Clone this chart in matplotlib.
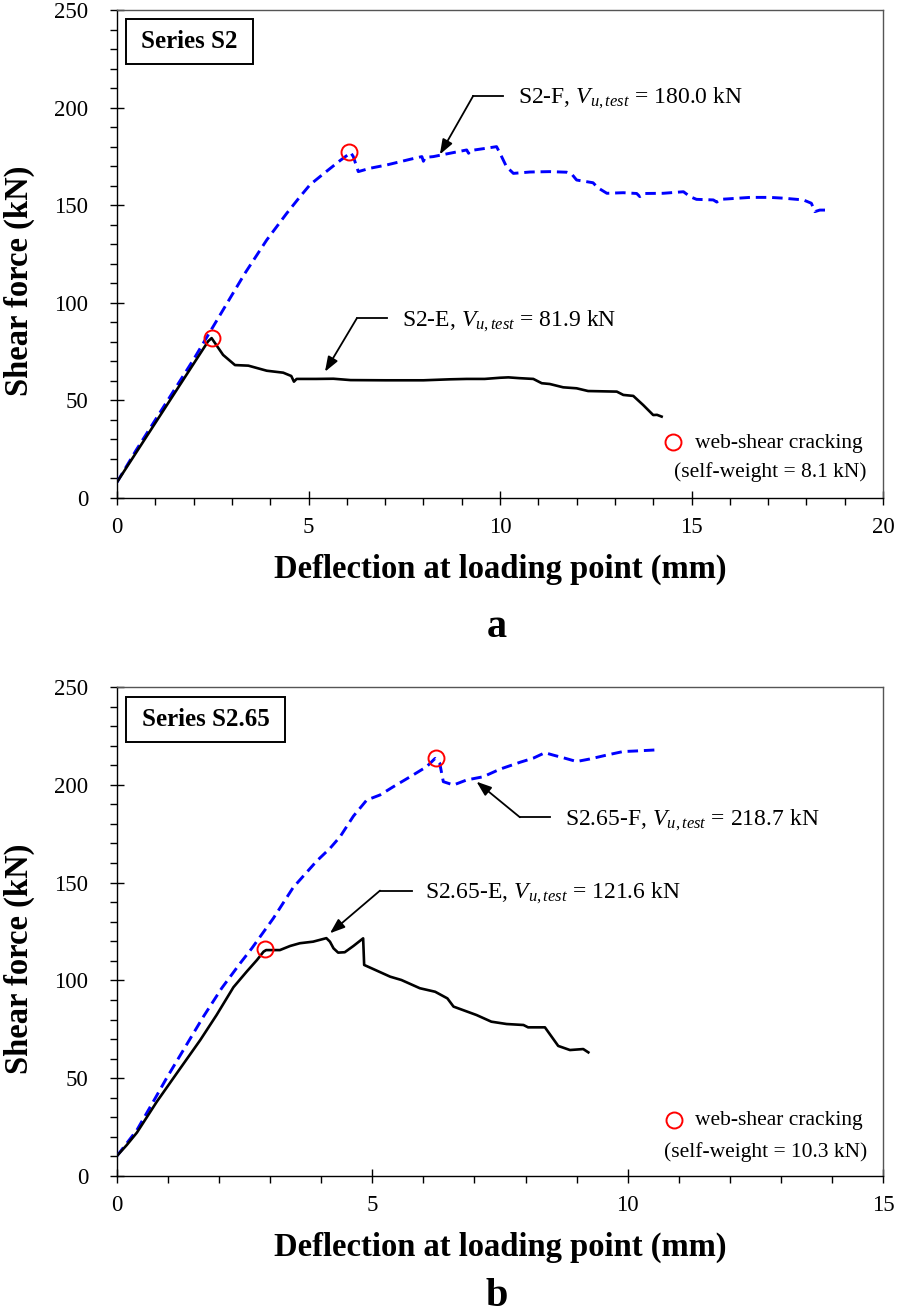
"""
Shear force vs. deflection at loading point for series S2 (a) and S2.65 (b).
Curves digitised from the reference figure.
"""

import matplotlib

matplotlib.use("Agg")
import matplotlib.pyplot as plt
from matplotlib.patches import Rectangle
from matplotlib.ticker import MultipleLocator


plt.rcParams["font.family"] = ["Liberation Serif", "DejaVu Serif"]
plt.rcParams["mathtext.fontset"] = "custom"
plt.rcParams["mathtext.rm"] = "Liberation Serif"
plt.rcParams["mathtext.it"] = "Liberation Serif:italic"

# <>#<>#<>#<>#<>#<>#<>#<>#<>#<>#<>#<>#<>#<>#<>#<>#<>#<>#<>#<>#<>#<>#<>#<>#<>#<>
# <> Step 0. Data
# <>#<>#<>#<>#<>#<>#<>#<>#<>#<>#<>#<>#<>#<>#<>#<>#<>#<>#<>#<>#<>#<>#<>#<>#<>#<>

# (a) Series S2
S2E_X = [0, 2.38, 2.47, 2.77, 3.08, 3.43, 3.91, 4.34, 4.55, 4.62, 4.69, 5.2, 5.65,
         6.1, 7.0, 8.0, 8.69, 9.13, 9.6, 10.0, 10.22, 10.5, 10.87, 11.09, 11.3,
         11.65, 12.0, 12.3, 13.05, 13.22, 13.48, 13.74, 14.0, 14.1, 14.22]
S2E_Y = [8.1, 80.3, 81.9, 73.3, 68.1, 67.8, 65.2, 64.2, 62.5, 59.6, 61.0, 61.0,
         61.1, 60.4, 60.3, 60.3, 60.8, 61.0, 61.0, 61.6, 61.8, 61.4, 61.0, 58.8,
         58.4, 56.7, 56.2, 54.8, 54.5, 52.8, 52.3, 47.6, 42.5, 42.6, 41.7]

S2F_X = [0, 0.5, 1.0, 1.5, 2.0, 2.51, 2.95, 3.34, 3.91, 4.43, 4.78, 5.04, 5.48,
         5.82, 6.04, 6.1, 6.17, 6.3, 6.6, 7.04, 7.65, 7.96, 8.0, 8.05, 8.26, 8.69,
         9.13, 9.18, 9.23, 9.65, 9.91, 10.0, 10.17, 10.35, 10.78, 11.3, 11.74,
         11.87, 12.0, 12.43, 12.55, 12.79, 13.22, 13.57, 13.65, 13.75, 14.26,
         14.79, 14.96, 15.13, 15.57, 15.66, 15.75, 15.92, 16.53, 17.05, 17.4,
         17.92, 18.13, 18.22, 18.35, 18.57]
S2F_Y = [8.1, 24.5, 40.0, 55.5, 71.0, 87.8, 102.3, 115.1, 132.2, 145.8, 154.4,
         160.5, 167.5, 172.8, 176.0, 177.0, 174.9, 167.2, 168.9, 170.6, 173.5,
         174.9, 172.5, 174.5, 174.9, 176.6, 178.3, 176.6, 178.0, 179.2, 180.0,
         176.6, 169.7, 166.3, 167.0, 167.2, 166.9, 166.0, 162.9, 161.5, 159.0,
         156.1, 156.4, 156.0, 154.4, 156.0, 156.1, 156.9, 154.4, 153.0, 152.7,
         151.6, 153.0, 153.2, 154.0, 154.0, 153.6, 152.7, 151.0, 146.7, 147.5,
         147.5]

S2_CRACK_X = [2.47, 6.06]
S2_CRACK_Y = [81.9, 177.0]

# (b) Series S2.65
S265E_X = [0, 0.19, 0.39, 0.78, 1.17, 1.63, 1.95, 2.28, 2.54, 2.74, 2.87, 2.92,
           3.0, 3.19, 3.39, 3.58, 3.84, 4.1, 4.17, 4.24, 4.33, 4.46, 4.63, 4.82,
           4.84, 5.35, 5.57, 5.93, 6.23, 6.47, 6.59, 7.04, 7.33, 7.63, 7.96,
           8.05, 8.38, 8.64, 8.87, 9.13, 9.23]
S265E_Y = [10.3, 15.8, 22.2, 38.0, 52.5, 69.5, 82.3, 96.5, 104.5, 110.4, 114.7,
           115.5, 115.5, 115.5, 117.6, 119.0, 119.8, 121.6, 119.8, 116.4, 114.2,
           114.4, 117.6, 121.5, 107.9, 101.9, 100.2, 96.0, 94.2, 90.8, 86.6, 82.3,
           78.9, 77.7, 77.2, 76.0, 76.0, 66.5, 64.4, 64.9, 63.2]

S265F_X = [0, 0.19, 0.39, 0.71, 0.97, 1.3, 1.69, 2.05, 2.41, 2.64, 3.06, 3.45,
           3.91, 4.17, 4.37, 4.63, 4.89, 5.15, 5.41, 5.74, 6.06, 6.23, 6.32, 6.39,
           6.59, 6.85, 7.17, 7.5, 7.89, 8.15, 8.38, 8.54, 8.77, 9.0, 9.26, 9.59,
           9.91, 10.17, 10.53]
S265F_Y = [10.3, 16.7, 23.5, 38.0, 50.0, 64.4, 81.4, 96.0, 108.7, 116.4, 131.7,
           147.5, 161.0, 167.5, 173.5, 184.0, 192.2, 194.8, 199.0, 204.1, 209.2,
           213.5, 211.0, 201.6, 199.9, 202.5, 204.1, 208.0, 211.5, 213.6, 216.4,
           215.2, 213.6, 211.9, 213.2, 215.2, 217.0, 217.3, 217.8]

S265_CRACK_X = [2.9, 6.25]
S265_CRACK_Y = [115.9, 213.5]

# annotation leaders: (text, arrow head, elbow, end of horizontal leg, text x)
S2_LABELS = [
    (r"S2-F, $V_{u,test}$ = 180.0 kN", (8.43, 176.0), (9.30, 206.0), 10.09, 10.47),
    (r"S2-E, $V_{u,test}$ = 81.9 kN", (5.43, 64.7), (6.26, 92.0), 7.04, 7.43),
]
S265_LABELS = [
    (r"S2.65-F, $V_{u,test}$ = 218.7 kN", (7.04, 201.6), (7.89, 183.4), 8.48, 8.77),
    (r"S2.65-E, $V_{u,test}$ = 121.6 kN", (4.17, 124.1), (5.15, 145.9), 5.77, 6.03),
]

BLUE = "#0000FF"
FIG_W, FIG_H = 898, 1316


def style_axis(axis, x_max):
    axis.set_xlim(0, x_max)
    axis.set_ylim(0, 250)
    axis.xaxis.set_major_locator(MultipleLocator(5))
    axis.xaxis.set_minor_locator(MultipleLocator(1))
    axis.yaxis.set_major_locator(MultipleLocator(50))
    axis.yaxis.set_minor_locator(MultipleLocator(10))
    axis.tick_params(which="major", direction="inout", length=10, width=1,
                     labelsize=16.5)
    axis.tick_params(which="minor", direction="out", length=5, width=1)
    axis.tick_params(axis="y", which="major", pad=15.5)
    axis.tick_params(axis="x", which="major", pad=9)
    for side in ("top", "right"):
        axis.spines[side].set_color("#555555")
    for spine in axis.spines.values():
        spine.set_linewidth(1)


def draw_panel(axis, e_x, e_y, f_x, f_y, crack_x, crack_y, labels):
    axis.plot(f_x, f_y, color=BLUE, lw=2.1, dashes=(3.6, 2.0), zorder=3)
    axis.plot(e_x, e_y, color="black", lw=1.9, zorder=4)
    axis.plot(crack_x, crack_y, "o", ms=11.5, mfc="none", mec="red", mew=1.4,
              zorder=5)
    for text, head, elbow, leg_end, text_x in labels:
        axis.annotate("", xy=head, xytext=elbow,
                      arrowprops=dict(arrowstyle="-|>,head_length=0.6,head_width=0.22",
                                      color="black", lw=1.3, shrinkA=0, shrinkB=0,
                                      mutation_scale=15))
        axis.plot([elbow[0], leg_end], [elbow[1], elbow[1]], color="black", lw=1.3)
        axis.text(text_x, elbow[1] - 1.5, text, fontsize=17, va="center", ha="left")


def add_box(axis, box, text, text_xy):
    axis.add_patch(Rectangle(box[:2], box[2], box[3], transform=axis.transAxes,
                             fill=False, edgecolor="black", lw=1.4, zorder=6))
    axis.text(*text_xy, text, transform=axis.transAxes, fontsize=18,
              fontweight="bold", ha="center", va="center")


def add_key(axis, marker_xy, text_y, note, note_y):
    axis.plot(*marker_xy, "o", ms=11.5, mfc="none", mec="red", mew=1.4,
              transform=axis.transAxes, clip_on=False)
    axis.text(0.7546, text_y, "web-shear cracking", transform=axis.transAxes,
              fontsize=15.5, va="center", ha="left")
    axis.text(0.979, note_y, note, transform=axis.transAxes, fontsize=15.5,
              va="center", ha="right")


fig = plt.figure(figsize=(FIG_W / 100, FIG_H / 100), dpi=100)
ax_a = fig.add_axes([117 / FIG_W, 1 - 498 / FIG_H, 766 / FIG_W, 488 / FIG_H])
ax_b = fig.add_axes([117 / FIG_W, 1 - 1176 / FIG_H, 766 / FIG_W, 489 / FIG_H])

style_axis(ax_a, 20)
style_axis(ax_b, 15)

draw_panel(ax_a, S2E_X, S2E_Y, S2F_X, S2F_Y, S2_CRACK_X, S2_CRACK_Y, S2_LABELS)
draw_panel(ax_b, S265E_X, S265E_Y, S265F_X, S265F_Y, S265_CRACK_X, S265_CRACK_Y,
           S265_LABELS)

add_box(ax_a, (0.0117, 0.889, 0.1658, 0.0922), "Series S2", (0.0946, 0.9355))
add_box(ax_b, (0.0117, 0.8875, 0.2076, 0.092), "Series S2.65", (0.1155, 0.9335))

add_key(ax_a, (0.7263, 0.1141), 0.1127, "(self-weight = 8.1 kN)", 0.0539)
add_key(ax_b, (0.7276, 0.1145), 0.1130, "(self-weight = 10.3 kN)", 0.0497)

# axis titles and panel letters
for offset in (0, 678):
    fig.text(500 / FIG_W, 1 - (578 + offset) / FIG_H,
             "Deflection at loading point (mm)", fontsize=23.5, fontweight="bold",
             ha="center", va="baseline")
    fig.text(19 / FIG_W, 1 - (281 + offset) / FIG_H, "Shear force (kN)",
             fontsize=23.5, fontweight="bold", rotation=90, ha="center", va="center")
fig.text(497 / FIG_W, 1 - 637 / FIG_H, "a", fontsize=29, fontweight="bold",
         ha="center", va="baseline")
fig.text(497 / FIG_W, 1 - 1306 / FIG_H, "b", fontsize=29, fontweight="bold",
         ha="center", va="baseline")

fig.savefig("out.png", dpi=100)
